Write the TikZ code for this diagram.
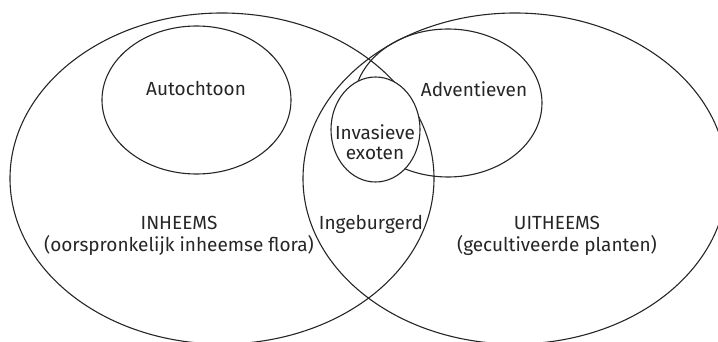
\documentclass[tikz,border=0pt]{standalone}
\usepackage{fontspec}
\setmainfont{Fira Sans}
\begin{document}
\begin{tikzpicture}[x=1pt,y=-1pt,
  setline/.style={draw=black!85, line width=1.1pt},
  lbl/.style={font=\fontsize{19}{22}\selectfont, align=center, inner sep=0pt, text=black!85}]
\useasboundingbox (0,0) rectangle (718,342);
\clip (0,0) rectangle (718,342);
% the two main groups
\draw[setline] (222,178.5) ellipse [x radius=212, y radius=165.5];
\draw[setline] (515,178.5) ellipse [x radius=212, y radius=165.5];
% subgroups
\draw[setline] (196.5,100) ellipse [x radius=94.5, y radius=74];
\draw[setline] (448,103) ellipse [x radius=94, y radius=74];
\draw[setline, fill=white] (375.5,129.5) ellipse [x radius=44.5, y radius=52.5];
% labels
\node[lbl] (autochtoon) at (196,89) {Autochtoon};
\node[lbl] (adventieven) at (474,89) {Adventieven};
\node[lbl, font=\fontsize{19}{20}\selectfont] (invasief) at (375,142) {Invasieve\\exoten};
\node[lbl] (ingeburgerd) at (371,224) {Ingeburgerd};
\node[lbl] (inheems) at (179,236) {INHEEMS\\(oorspronkelijk inheemse flora)};
\node[lbl] (uitheems) at (557,236) {UITHEEMS\\(gecultiveerde planten)};
\end{tikzpicture}
\end{document}
